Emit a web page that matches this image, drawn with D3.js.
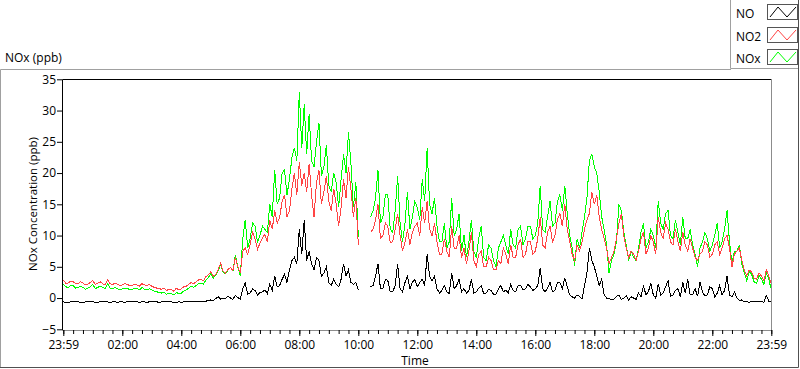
<!DOCTYPE html>
<html>
<head>
<meta charset="utf-8">
<script src="https://cdn.jsdelivr.net/npm/d3@7"></script>
<style>
body { margin: 0; background: #fff; }
svg { display: block; font-family: "Open Sans", sans-serif; }
</style>
</head>
<body>
<div id="chart"></div>
<script>
const seriesNames = ["NO", "NO2", "NOx"];
const seriesColors = ["#000000", "#ff4444", "#00ff00"];
const timeLabels = ["23:59", "02:00", "04:00", "06:00", "08:00", "10:00", "12:00",
    "14:00", "16:00", "18:00", "20:00", "22:00", "23:59"];
const yTicks = [-5, 0, 5, 10, 15, 20, 25, 30, 35];

// one reading every 5 minutes, last one at 23:59; null = no data (10:05-10:20)
const noValues = [
    -0.6, -0.7, -0.7, -0.6, -0.6, -0.6, -0.6, -0.7, -0.7, -0.6, -0.6, -0.5, -0.6, -0.7, -0.7, -0.6,
    -0.6, -0.6, -0.6, -0.7, -0.6, -0.6, -0.7, -0.6, -0.6, -0.7, -0.6, -0.6, -0.6, -0.6, -0.6, -0.7,
    -0.6, -0.6, -0.7, -0.6, -0.6, -0.6, -0.6, -0.7, -0.6, -0.6, -0.6, -0.6, -0.6, -0.7, -0.7, -0.6,
    -0.7, -0.6, -0.6, -0.6, -0.6, -0.6, -0.6, -0.5, -0.6, -0.6, -0.5, -0.4, -0.3, -0.4, -0.1, 0.2,
    -0.2, 0.0, -0.1, 0.3, 0.0, -0.2, 0.4, 0.1, -0.2, 1.5,
    2.4, 0.6, 0.8, 1.5, 1.2, 0.5, 0.9, 1.0, 1.3, 0.7, 2.2, 1.2, 3.5, 1.8, 2.0, 3.0, 3.8, 2.5,
    4.5, 6.0, 6.5, 5.5, 11.0, 7.0, 12.5, 6.0, 7.5, 5.5, 4.5, 6.5, 6.0, 3.5, 4.0, 5.0, 2.5, 2.0,
    3.0, 2.2, 1.8, 3.0, 5.5, 3.5, 4.5, 2.5, 2.2, 2.5, 1.3,
    null, null, null, null, 1.8,
    2.0, 3.5, 5.5, 1.5, 1.5, 3.0, 2.8, 1.0, 1.0, 2.0, 5.5, 1.5, 1.0, 2.5, 3.5, 1.5, 2.5, 3.0,
    1.8, 2.5, 3.0, 2.0, 7.0, 3.5, 2.8, 3.5, 1.5, 0.8, 1.2, 2.0, 1.0, 0.7, 4.0, 1.5, 2.0, 3.0,
    1.0, 1.5, 0.8, 1.2, 3.0, 0.8, 1.0, 1.6, 2.0, 0.7, 0.8, 1.4, 1.2, 0.6, 0.6, 1.5, 2.0, 1.0,
    1.3, 0.8, 2.2, 1.2, 1.0, 2.0, 2.0, 1.3, 1.5, 2.2, 1.8, 1.2, 1.5, 2.0, 4.8, 1.5, 1.0, 1.6,
    2.5, 1.0, 1.2, 2.5, 2.5, 1.5, 3.2, 1.8, 0.5, 0.2, 0.0, 0.5, 0.3, -0.2, 2.0, 4.0, 8.0, 6.0,
    5.0, 3.5, 2.0, 3.0, 0.5, 0.0, 0.0, -0.3, -0.2, 0.3, 0.5, -0.2, 0.0, 0.4, -0.3, 0.2, 0.0, -0.2,
    0.8, 0.2, 2.0, 0.5, 1.0, 2.4, 0.5, 0.0, 2.3, 0.5, 0.8, 1.8, 2.8, 0.3, 0.5, 1.2, 1.5, 0.2,
    2.5, 0.8, 3.0, 0.5, 0.5, 1.5, 0.3, 2.5, 1.0, 0.3, 0.5, 1.8, 1.5, 0.2, 0.8, 2.0, 0.5, 1.2,
    3.5, 0.5, 0.2, 1.0, 0.0, -0.4, -0.3, -0.6, -0.5, -0.7, -0.5, -0.6, -0.6, -0.5, -0.5, -0.7,
    0.4, -0.5, -0.6
];
const no2Values = [
    2.8, 2.4, 2.4, 2.7, 2.6, 2.3, 2.3, 2.6, 2.4, 2.1, 2.2, 2.5, 2.8, 2.2, 2.4, 2.6, 2.3, 2.1,
    2.9, 2.3, 2.1, 2.4, 2.2, 2.0, 2.1, 2.3, 2.2, 2.0, 2.0, 2.2, 2.1, 1.9, 2.3, 2.1, 2.0, 2.2,
    1.9, 1.7, 1.6, 1.5, 1.4, 1.6, 1.2, 1.4, 1.3, 1.1, 1.6, 1.3, 1.5, 1.8, 1.9, 2.2, 2.5, 2.3,
    2.6, 2.9, 3.0, 2.8, 3.4, 3.7, 4.2, 3.5, 3.8, 4.6, 5.6, 4.3, 4.0, 4.6, 4.9, 4.4, 6.5, 5.0,
    4.0, 7.5,
    8.0, 7.0, 8.5, 10.5, 9.5, 7.8, 8.8, 9.6, 10.2, 9.0, 12.5, 11.0, 14.0, 12.0, 12.8, 15.5,
    16.5, 13.0, 14.0, 17.5, 20.0, 16.5, 21.8, 18.0, 20.0, 17.0, 21.5, 16.5, 13.0, 18.5, 20.5,
    15.0, 17.0, 19.5, 15.5, 14.0, 17.5, 15.0, 11.5, 14.5, 19.0, 16.0, 21.0, 17.5, 13.0, 16.0, 8.5,
    null, null, null, null, 10.5,
    11.0, 12.5, 15.0, 9.5, 10.0, 12.0, 11.5, 8.8, 9.0, 11.0, 13.5, 10.0, 7.5, 9.0, 11.0, 8.5,
    10.5, 11.5, 12.0, 10.0, 14.5, 12.0, 15.5, 11.0, 10.0, 12.0, 9.0, 7.0, 7.0, 9.5, 7.5, 6.5,
    11.5, 8.0, 8.0, 10.0, 6.5, 8.0, 5.5, 7.5, 10.5, 6.0, 5.0, 7.0, 7.5, 5.0, 5.0, 6.5, 6.0, 4.5,
    4.5, 6.0, 5.5, 8.0, 7.0, 5.5, 8.5, 6.5, 6.5, 8.5, 9.5, 6.5, 7.0, 9.0, 9.0, 7.0, 7.5, 9.5,
    13.0, 8.5, 8.0, 10.5, 11.5, 9.0, 10.0, 12.5, 13.5, 11.5, 15.0, 11.0, 9.0, 7.0, 6.0, 8.5,
    7.5, 9.0, 11.0, 12.5, 13.5, 17.0,
    15.0, 16.5, 13.0, 11.0, 9.5, 8.0, 5.5, 6.5, 7.5, 9.5, 12.0, 13.5, 10.0, 8.0, 6.5, 7.5,
    7.0, 6.0, 7.5, 9.5, 10.5, 7.0, 8.0, 10.0, 9.0, 7.0, 13.0, 10.5, 9.5, 12.0, 11.0, 9.0,
    8.5, 11.0, 9.0, 7.5, 10.5, 8.5, 7.5, 9.5, 8.0, 6.5, 6.0, 7.0, 7.5, 9.0, 8.5, 6.5, 7.0, 8.5,
    9.0, 7.0, 8.0, 9.5, 10.0, 8.0, 5.0, 7.0, 7.5, 8.0, 6.0, 4.5, 3.5, 4.5, 4.2, 3.2, 3.0, 4.0,
    3.5, 2.8, 4.5, 3.5, 2.5
];
const noxValues = [
    2.2, 1.8, 1.7, 2.0, 2.0, 1.6, 1.7, 1.9, 1.7, 1.4, 1.6, 1.8, 2.2, 1.5, 1.7, 1.9, 1.7, 1.5,
    2.3, 1.6, 1.5, 1.7, 1.5, 1.3, 1.5, 1.6, 1.6, 1.3, 1.4, 1.6, 1.5, 1.3, 1.7, 1.4, 1.3, 1.5,
    1.3, 1.1, 1.0, 0.9, 0.8, 1.0, 0.6, 0.8, 0.7, 0.5, 0.9, 0.7, 0.8, 1.1, 1.3, 1.6, 1.9, 1.7,
    2.0, 2.3, 2.4, 2.2, 2.9, 3.3, 3.9, 3.2, 3.7, 4.4, 5.4, 4.1, 3.9, 4.5, 4.9, 4.3, 6.9, 5.0,
    3.5, 9.5,
    12.5, 8.0, 9.5, 12.0, 11.5, 9.0, 10.0, 11.5, 11.0, 10.5, 15.0, 13.0, 20.5, 15.0, 16.0, 20.0,
    20.5, 16.5, 19.0, 22.5, 24.0, 22.0, 33.0, 24.0, 31.0, 23.0, 29.5, 22.0, 21.0, 25.0, 28.0,
    19.5, 21.0, 24.5, 18.0, 17.0, 20.0, 18.5, 14.5, 19.0, 23.0, 20.0, 26.5, 21.5, 14.5, 18.5, 9.8,
    null, null, null, null, 13.0,
    14.0, 16.0, 20.5, 12.0, 13.0, 16.5, 16.5, 11.0, 10.5, 14.0, 19.5, 12.0, 9.0, 12.0, 17.0, 11.0,
    13.0, 15.5, 14.5, 12.5, 19.0, 15.5, 24.0, 15.0, 13.5, 16.0, 11.5, 9.0, 9.0, 12.0, 8.0, 9.0,
    16.0, 10.0, 11.0, 13.5, 7.5, 10.0, 6.5, 9.0, 12.5, 7.5, 6.5, 9.5, 11.5, 6.5, 6.0, 8.5, 8.0, 6.0,
    5.0, 8.0, 9.0, 10.0, 8.5, 7.0, 11.0, 8.5, 8.0, 11.0, 11.5, 8.5, 9.5, 11.5, 11.5, 9.5, 10.0, 12.0,
    18.0, 11.0, 10.5, 13.0, 15.5, 11.5, 12.0, 15.5, 16.5, 14.0, 18.0, 13.5, 10.0, 8.0, 5.2, 9.5,
    8.0, 10.5, 13.0, 16.0, 22.0, 23.0,
    21.0, 20.0, 17.0, 13.0, 11.0, 8.5, 4.0, 6.0, 7.0, 9.0, 15.0, 14.0, 10.5, 8.5, 6.0, 7.5,
    6.5, 6.0, 8.0, 10.5, 12.0, 8.0, 9.0, 11.0, 10.0, 8.0, 15.5, 12.0, 11.0, 13.5, 14.0, 10.0,
    9.5, 12.5, 10.5, 8.5, 13.0, 9.5, 9.5, 11.0, 8.5, 7.0, 5.0, 8.0, 9.0, 10.5, 9.5, 7.5, 8.5, 10.0,
    12.0, 8.0, 9.0, 11.0, 14.0, 9.0, 5.5, 7.5, 7.5, 8.5, 5.5, 4.0, 2.8, 4.2, 3.8, 2.6, 2.4, 3.6,
    3.0, 2.2, 4.0, 3.0, 1.6
];

function drawChart() {
    const svg = d3.select("#chart")
        .append("svg")
        .attr("width", 800)
        .attr("height", 369);

    // minutes since start of record
    const minutes = noValues.map((d, i) => Math.min(i * 5, 1439));

    const x = d3.scaleLinear().domain([0, 1440]).range([63.3, 771.3]);
    const y = d3.scaleLinear().domain([-5, 35]).range([329.3, 79.3]);

    // outer frame
    svg.append("path").attr("d", "M0.5,368 V69.5 H731").attr("fill", "none").attr("stroke", "#a0a0a0");
    svg.append("path").attr("d", "M0,367.5 H798.5 V68").attr("fill", "none").attr("stroke", "#505050");

    // legend box
    svg.append("path").attr("d", "M730.5,0 V68.5 H799").attr("fill", "none").attr("stroke", "#a0a0a0");
    svg.append("path").attr("d", "M798.5,0 V69").attr("fill", "none").attr("stroke", "#505050");

    svg.append("text")
        .attr("x", 5)
        .attr("y", 62)
        .attr("font-size", 12)
        .text("NOx (ppb)");

    // plot frame
    svg.append("path").attr("d", "M62.5,331 V79.5 H772").attr("fill", "none").attr("stroke", "#000");
    svg.append("path").attr("d", "M62,330.5 H771.5 V79").attr("fill", "none").attr("stroke", "#8c8c8c");

    // data, NOx first so NO2 sits on top
    const line = d3.line()
        .defined(d => d[1] != null)
        .x(d => x(d[0]))
        .y(d => y(d[1]));

    const order = [2, 1, 0];
    const allValues = [noValues, no2Values, noxValues];
    order.forEach(k => {
        svg.append("path")
            .datum(minutes.map((m, i) => [m, allValues[k][i]]))
            .attr("d", line)
            .attr("fill", "none")
            .attr("stroke", seriesColors[k])
            .attr("stroke-width", 1)
            .attr("shape-rendering", "crispEdges");
    });

    // y axis
    const yAxis = svg.append("g")
        .attr("transform", "translate(62,0)")
        .call(d3.axisLeft(y).tickValues(yTicks).tickSize(5).tickPadding(1));
    yAxis.select(".domain").remove();
    yAxis.attr("font-size", 12).attr("font-family", null);

    // x axis: minor ticks every 20 min, labels every 2 h
    const xMinor = svg.append("g")
        .attr("transform", "translate(0,330)")
        .call(d3.axisBottom(x).tickValues(d3.range(0, 1441, 20)).tickSize(4).tickFormat(""));
    xMinor.select(".domain").remove();

    const xAxis = svg.append("g")
        .attr("transform", "translate(0,330)")
        .call(d3.axisBottom(x)
            .tickValues(d3.range(0, 1441, 120))
            .tickFormat((d, i) => timeLabels[i])
            .tickSize(6)
            .tickPadding(4.5));
    xAxis.select(".domain").remove();
    xAxis.attr("font-size", 12).attr("font-family", null);

    // axis titles
    svg.append("text")
        .attr("transform", "translate(37,204) rotate(-90)")
        .attr("text-anchor", "middle")
        .attr("font-size", 11.5)
        .text("NOx Concentration (ppb)");

    svg.append("text")
        .attr("x", 415)
        .attr("y", 365)
        .attr("text-anchor", "middle")
        .attr("font-size", 12)
        .text("Time");

    // legend
    const legendItems = svg.selectAll(".legend-item")
        .data(seriesNames)
        .enter().append("g")
        .attr("class", "legend-item")
        .attr("transform", (d, i) => "translate(0," + [0, 23, 45][i] + ")");

    legendItems.append("text")
        .attr("x", 736)
        .attr("y", 17.5)
        .attr("font-size", 12)
        .text(d => d);

    legendItems.append("rect")
        .attr("x", 767.5)
        .attr("y", 4.5)
        .attr("width", 30)
        .attr("height", 15)
        .attr("fill", "#fff")
        .attr("stroke", "#555");

    legendItems.append("path")
        .attr("d", "M770,17 L778,7 L787,17 L796,7")
        .attr("fill", "none")
        .attr("stroke", (d, i) => seriesColors[i])
        .attr("stroke-width", 1);
}

drawChart();
</script>
</body>
</html>
